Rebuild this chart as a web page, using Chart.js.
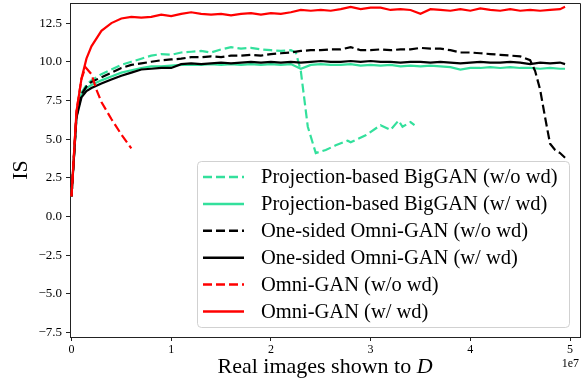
<!DOCTYPE html>
<html>
<head>
<meta charset="utf-8">
<script src="https://cdn.jsdelivr.net/npm/chart.js@4.4.1/dist/chart.umd.min.js"></script>
<style>
  html, body { margin: 0; padding: 0; background: #fff; }
  #wrap { width: 586px; height: 381px; }
</style>
</head>
<body>
<div id="wrap"><canvas id="isChart"></canvas></div>
<script>
//<![CDATA[

// x values are in units of 1e7 real images
let xTicks = [0, 1, 2, 3, 4, 5];
let yTicks = [-7.5, -5.0, -2.5, 0.0, 2.5, 5.0, 7.5, 10.0, 12.5];

let stepsFull = [0, 0.05, 0.1, 0.15, 0.2,
    0.3, 0.4, 0.5, 0.6, 0.7, 0.8, 0.9, 1.0,
    1.1, 1.2, 1.3, 1.4, 1.5, 1.6, 1.7, 1.8, 1.9, 2.0,
    2.1, 2.2, 2.3, 2.4, 2.5, 2.6, 2.7, 2.8, 2.9, 3.0,
    3.1, 3.2, 3.3, 3.4, 3.5, 3.6, 3.7, 3.8, 3.9, 4.0,
    4.1, 4.2, 4.3, 4.4, 4.5, 4.6, 4.7, 4.8, 4.9,
    4.95];

let projNoWdX = [0, 0.05, 0.1, 0.15, 0.2,
    0.3, 0.4, 0.5, 0.6, 0.7, 0.8, 0.9, 1.0,
    1.1, 1.2, 1.3, 1.4, 1.5, 1.6, 1.7, 1.8, 1.9, 2.0,
    2.1, 2.2,
    2.25, 2.3, 2.37, 2.45, 2.55, 2.65, 2.77, 2.8, 2.95, 3.1, 3.2, 3.28, 3.32, 3.4, 3.44];
let projNoWdY = [1.3, 6.5, 8.0, 8.5, 8.8,
    9.2, 9.5, 9.8, 10.0, 10.2, 10.4, 10.5, 10.45,
    10.6, 10.65, 10.7, 10.6, 10.8, 10.95, 10.85, 10.9, 10.8, 10.75,
    10.7, 10.75,
    10.6, 9.4, 5.8, 4.1, 4.3, 4.6, 4.9, 4.8, 5.25, 5.9, 5.6, 6.2, 5.8, 6.1, 5.9];

let projWdY = [1.3, 6.6, 7.9, 8.3, 8.5,
    8.8, 9.05, 9.3, 9.45, 9.6, 9.7, 9.7, 9.75,
    9.8, 9.8, 9.8, 9.85, 9.8, 9.85, 9.8, 9.85, 9.8, 9.85,
    9.8, 9.85, 9.55, 9.8, 9.85, 9.8, 9.8, 9.85, 9.75, 9.8,
    9.75, 9.8, 9.7, 9.75, 9.7, 9.75, 9.7, 9.65, 9.5, 9.6,
    9.6, 9.65, 9.6, 9.65, 9.6, 9.6, 9.55, 9.6, 9.55,
    9.55];

let oneSidedNoWdX = [0, 0.05, 0.1, 0.15, 0.2,
    0.3, 0.4, 0.5, 0.6, 0.7, 0.8, 0.9, 1.0,
    1.1, 1.2, 1.3, 1.4, 1.5, 1.6, 1.7, 1.8, 1.9, 2.0,
    2.1, 2.2, 2.3, 2.4, 2.5, 2.6, 2.7, 2.8, 2.9, 3.0,
    3.1, 3.2, 3.3, 3.4, 3.5, 3.6, 3.7, 3.8, 3.9, 4.0,
    4.1, 4.2, 4.3, 4.4, 4.5, 4.6,
    4.65, 4.7, 4.75, 4.8, 4.85, 4.9, 4.95];
let oneSidedNoWdY = [1.3, 6.5, 7.9, 8.4, 8.7,
    9.0, 9.3, 9.6, 9.8, 9.9, 10.0, 10.1, 10.15,
    10.2, 10.3, 10.3, 10.35, 10.3, 10.4, 10.4, 10.45, 10.4, 10.5,
    10.55, 10.6, 10.7, 10.75, 10.75, 10.8, 10.8, 10.95, 10.75, 10.75,
    10.8, 10.75, 10.8, 10.8, 10.9, 10.85, 10.85, 10.75, 10.6, 10.6,
    10.55, 10.5, 10.45, 10.4, 10.35, 10.1,
    9.4, 8.2, 6.4, 4.7, 4.3, 4.1, 3.8];

let oneSidedWdY = [1.3, 6.4, 7.7, 8.1, 8.3,
    8.6, 8.85, 9.1, 9.3, 9.5, 9.55, 9.6, 9.6,
    9.85, 9.9, 9.85, 9.9, 9.95, 9.9, 9.95, 10.0, 9.95, 10.0,
    9.95, 10.0, 9.95, 10.0, 10.05, 10.0, 10.0, 10.05, 10.0, 10.05,
    10.0, 10.0, 9.95, 10.0, 10.0, 9.95, 10.0, 9.95, 9.9, 9.95,
    10.0, 9.95, 9.95, 10.0, 9.95, 9.85, 9.95, 9.9, 9.95,
    9.85];

let omniNoWdX = [0, 0.05, 0.1, 0.14, 0.2, 0.25, 0.3, 0.4, 0.5, 0.6];
let omniNoWdY = [1.3, 6.8, 8.9, 9.65, 9.2, 8.2, 7.4, 6.3, 5.3, 4.4];

let omniWdY = [1.3, 6.8, 8.9, 10.2, 11.0,
    12.0, 12.5, 12.8, 12.9, 12.85, 12.9, 13.05, 12.95,
    13.1, 13.2, 13.1, 13.05, 13.1, 13.0, 13.1, 13.15, 13.05, 13.15,
    13.1, 13.2, 13.35, 13.3, 13.35, 13.3, 13.4, 13.55, 13.4, 13.5,
    13.5, 13.35, 13.4, 13.35, 13.1, 13.4, 13.35, 13.3, 13.4, 13.3,
    13.45, 13.35, 13.3, 13.4, 13.3, 13.35, 13.3, 13.35, 13.4,
    13.55];

const green = '#33e09c';
const serif = '"Liberation Serif", "DejaVu Serif", serif';
const dash = [9, 4];

function pts(xs, ys) {
    return xs.map((x, i) => ({ x: x, y: ys[i] }));
}

function line(label, xs, ys, color, dashed, order) {
    return {
        label: label,
        data: pts(xs, ys),
        borderColor: color,
        backgroundColor: color,
        borderWidth: 2.2,
        borderDash: dashed ? dash : [],
        pointRadius: 0,
        tension: 0,
        order: order
    };
}

// frame, axis titles, offset text and legend box
const decorations = {
    id: 'decorations',
    afterDatasetsDraw(chart) {
        const ctx = chart.ctx;
        const a = chart.chartArea;
        ctx.save();
        ctx.strokeStyle = '#222';
        ctx.lineWidth = 1;
        ctx.beginPath();
        ctx.moveTo(a.left, a.top + 0.5);
        ctx.lineTo(a.right + 0.5, a.top + 0.5);
        ctx.lineTo(a.right + 0.5, a.bottom);
        ctx.stroke();
        ctx.restore();
    },
    afterDraw(chart) {
        const ctx = chart.ctx;
        const a = chart.chartArea;
        ctx.save();
        ctx.fillStyle = '#000';

        // x title with italic D
        const t1 = 'Real images shown to ';
        ctx.font = '22px ' + serif;
        const w1 = ctx.measureText(t1).width;
        ctx.font = 'italic 22px ' + serif;
        const w2 = ctx.measureText('D').width;
        let x0 = (a.left + a.right) / 2 - (w1 + w2) / 2;
        ctx.textBaseline = 'alphabetic';
        ctx.textAlign = 'left';
        ctx.font = '22px ' + serif;
        ctx.fillText(t1, x0, 373);
        ctx.font = 'italic 22px ' + serif;
        ctx.fillText('D', x0 + w1, 373);

        // y title
        ctx.save();
        ctx.translate(27, (a.top + a.bottom) / 2);
        ctx.rotate(-Math.PI / 2);
        ctx.font = '22px ' + serif;
        ctx.textAlign = 'center';
        ctx.fillText('IS', 0, 0);
        ctx.restore();

        // offset text
        ctx.font = '12px ' + serif;
        ctx.textAlign = 'right';
        ctx.fillText('1e7', 579, 367);

        // legend
        const lx = 197, ly = 161, lw = 372, lh = 166;
        ctx.fillStyle = 'rgba(255,255,255,0.8)';
        ctx.strokeStyle = 'rgba(204,204,204,0.9)';
        ctx.lineWidth = 1;
        ctx.beginPath();
        ctx.roundRect(lx + 0.5, ly + 0.5, lw, lh, 4);
        ctx.fill();
        ctx.stroke();

        ctx.font = '20.5px ' + serif;
        ctx.textAlign = 'left';
        ctx.textBaseline = 'middle';
        chart.data.datasets.forEach((ds, i) => {
            const cy = 177 + i * 26.9;
            ctx.strokeStyle = ds.borderColor;
            ctx.lineWidth = 2.5;
            ctx.setLineDash(ds.borderDash);
            ctx.beginPath();
            ctx.moveTo(203, cy);
            ctx.lineTo(244, cy);
            ctx.stroke();
            ctx.setLineDash([]);
            ctx.fillStyle = '#000';
            ctx.fillText(ds.label, 261, cy + 1);
        });
        ctx.restore();
    }
};

const ctx = document.getElementById('isChart');
const isChart = new Chart(ctx, {
    type: 'line',
    data: {
        datasets: [
            line('Projection-based BigGAN (w/o wd)', projNoWdX, projNoWdY, green, true, 6),
            line('Projection-based BigGAN (w/ wd)', stepsFull, projWdY, green, false, 5),
            line('One-sided Omni-GAN (w/o wd)', oneSidedNoWdX, oneSidedNoWdY, '#000', true, 4),
            line('One-sided Omni-GAN (w/ wd)', stepsFull, oneSidedWdY, '#000', false, 3),
            line('Omni-GAN (w/o wd)', omniNoWdX, omniNoWdY, '#ff0000', true, 2),
            line('Omni-GAN (w/ wd)', stepsFull, omniWdY, '#ff0000', false, 1)
        ]
    },
    options: {
        responsive: true,
        maintainAspectRatio: false,
        animation: false,
        layout: { padding: { top: 3, right: 6, left: 0, bottom: 0 } },
        plugins: {
            legend: { display: false },
            tooltip: { enabled: false }
        },
        scales: {
            x: {
                type: 'linear',
                min: -0.015,
                max: 5.1,
                afterFit: (s) => { s.height = 44; s.paddingLeft = 0; s.paddingRight = 0; },
                afterBuildTicks: (s) => { s.ticks = xTicks.map(v => ({ value: v })); },
                grid: { display: true, drawOnChartArea: false, drawTicks: true, tickLength: 4, color: '#222' },
                border: { display: true, color: '#222', width: 1 },
                ticks: {
                    color: '#000',
                    padding: 2,
                    maxRotation: 0,
                    font: { family: serif, size: 12 },
                    callback: (v) => String(v)
                }
            },
            y: {
                type: 'linear',
                min: -7.79,
                max: 13.8,
                afterFit: (s) => { s.width = 70; s.paddingTop = 0; s.paddingBottom = 0; },
                afterBuildTicks: (s) => { s.ticks = yTicks.map(v => ({ value: v })); },
                grid: { display: true, drawOnChartArea: false, drawTicks: true, tickLength: 4, color: '#222' },
                border: { display: true, color: '#222', width: 1 },
                ticks: {
                    color: '#000',
                    padding: 4,
                    font: { family: serif, size: 13 },
                    callback: (v) => (v < 0 ? '\u2212' + Math.abs(v).toFixed(1) : v.toFixed(1))
                }
            }
        }
    },
    plugins: [decorations]
});

// ]]>
</script>
</body>
</html>
